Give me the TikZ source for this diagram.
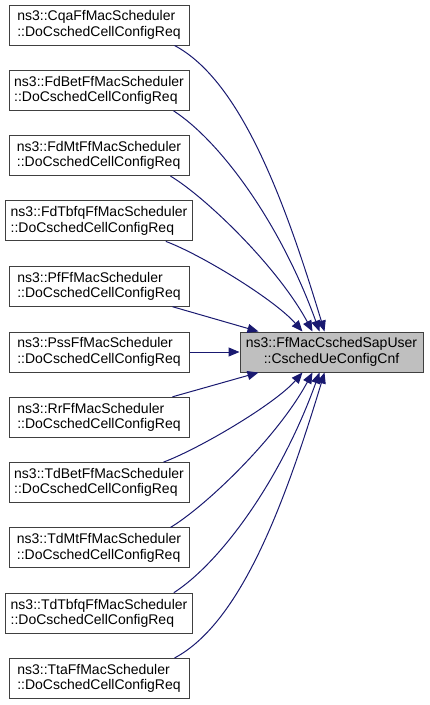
\documentclass[tikz,border=0pt]{standalone}
\usepackage{fontspec}
\usepackage{xcolor}
\usepackage{tikz}
\usetikzlibrary{arrows.meta,calc}
\newfontfamily\doxyfont{Liberation Sans}
\definecolor{edgeBlue}{HTML}{191970}
\definecolor{boxGray}{HTML}{404040}
\definecolor{hiFill}{HTML}{BFBFBF}

\begin{document}
\begin{tikzpicture}[x=1pt, y=-1pt,
  every node/.style={font=\doxyfont\fontsize{14}{15.5}\selectfont},
  caller/.style={draw=boxGray, line width=1pt, fill=white,
             minimum width=180pt, minimum height=40pt,
             inner xsep=5pt, inner ysep=2pt, align=left},
  callee/.style={draw=boxGray, line width=1pt, fill=hiFill,
             minimum width=183pt, minimum height=40pt,
             inner xsep=5pt, inner ysep=2pt, align=center},
  arr/.style={-{Triangle[length=11pt, width=9pt]}, line width=1pt, edgeBlue},
]
\useasboundingbox (0,0) rectangle (429,705);

% Left column: callers
\node[caller] (cqa) at (99, 25) {ns3::CqaFfMacScheduler\\::DoCschedCellConfigReq};
\node[caller] (fdbet) at (99, 90.3) {ns3::FdBetFfMacScheduler\\::DoCschedCellConfigReq};
\node[caller] (fdmt) at (99, 155.6) {ns3::FdMtFfMacScheduler\\::DoCschedCellConfigReq};
\node[caller] (fdtbfq) at (99, 220.9) {ns3::FdTbfqFfMacScheduler\\::DoCschedCellConfigReq};
\node[caller] (pf) at (99, 286.2) {ns3::PfFfMacScheduler\\::DoCschedCellConfigReq};
\node[caller] (pss) at (99, 352) {ns3::PssFfMacScheduler\\::DoCschedCellConfigReq};
\node[caller] (rr) at (99, 417.3) {ns3::RrFfMacScheduler\\::DoCschedCellConfigReq};
\node[caller] (tdbet) at (99, 482.6) {ns3::TdBetFfMacScheduler\\::DoCschedCellConfigReq};
\node[caller] (tdmt) at (99, 547.9) {ns3::TdMtFfMacScheduler\\::DoCschedCellConfigReq};
\node[caller] (tdtbfq) at (99, 613.2) {ns3::TdTbfqFfMacScheduler\\::DoCschedCellConfigReq};
\node[caller] (tta) at (99, 678.5) {ns3::TtaFfMacScheduler\\::DoCschedCellConfigReq};

% Right: the called function
\node[callee] (cnf) at (331.5, 352) {ns3::FfMacCschedSapUser\\::CschedUeConfigCnf};

% Upper edges
\draw[arr] ([xshift=-15pt]cqa.south east) .. controls +(66,35) and +(-40,-132) .. ([xshift=85pt]cnf.north west);
\draw[arr] ([xshift=-16pt]fdbet.south east) .. controls +(45,29) and +(-40,-111) .. ([xshift=80pt]cnf.north west);
\draw[arr] ([xshift=-19pt]fdmt.south east) .. controls +(35,21) and +(-35,-65) .. ([xshift=73pt]cnf.north west);
\draw[arr] ([xshift=-27pt]fdtbfq.south east) .. controls +(35,13) and +(-28,-32) .. ([xshift=63pt]cnf.north west);
\draw[arr] ([xshift=-17pt]pf.south east) -- ([xshift=19pt]cnf.north west);

% Middle edge
\draw[arr] (pss) -- (cnf);

% Lower edges
\draw[arr] ([xshift=-17pt]rr.north east) -- ([xshift=19pt]cnf.south west);
\draw[arr] ([xshift=-26pt]tdbet.north east) .. controls +(35,-13) and +(-28,32) .. ([xshift=63pt]cnf.south west);
\draw[arr] ([xshift=-19pt]tdmt.north east) .. controls +(35,-21) and +(-35,65) .. ([xshift=73pt]cnf.south west);
\draw[arr] ([xshift=-19pt]tdtbfq.north east) .. controls +(45,-29) and +(-40,111) .. ([xshift=80pt]cnf.south west);
\draw[arr] ([xshift=-15pt]tta.north east) .. controls +(66,-35) and +(-40,132) .. ([xshift=85pt]cnf.south west);

\end{tikzpicture}
\end{document}
